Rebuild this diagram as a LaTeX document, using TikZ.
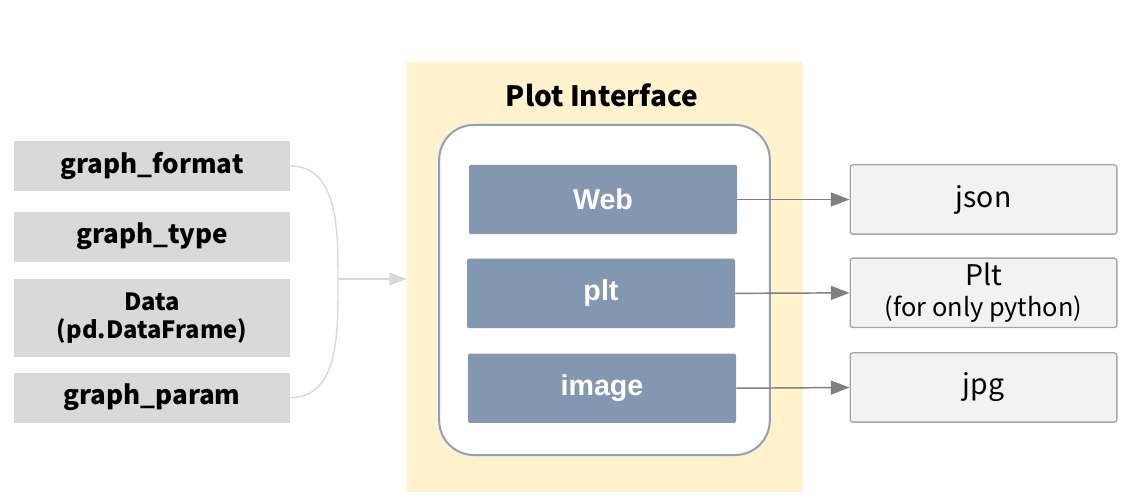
\documentclass[tikz,border=0pt]{standalone}
\usepackage{fontspec}
\newfontfamily\notofont{Noto Sans CJK KR}
\newfontfamily\arialfont{Liberation Sans}
\usepackage{tikz}
\usetikzlibrary{positioning}
\usetikzlibrary{arrows.meta}

\definecolor{inputgray}{HTML}{D9D9D9}
\definecolor{ifaceyellow}{HTML}{FFF2CC}
\definecolor{slateblue}{HTML}{8497B0}
\definecolor{frameblue}{HTML}{8EA0BA}
\definecolor{outgray}{HTML}{F2F2F2}
\definecolor{outline}{HTML}{A6A6A6}
\definecolor{arrowgray}{HTML}{808080}

\begin{document}
\begin{tikzpicture}[x=0.75pt,y=-0.75pt,
	inbox/.style={fill = inputgray, inner sep = 0pt, minimum width = 207pt, minimum height = 37.5pt, align = center, font = \notofont\bfseries\fontsize{19.5}{22}\selectfont},
	modbox/.style={fill = slateblue, rounded corners = 1.5pt, inner sep = 0pt, minimum width = 201pt, minimum height = 52pt, text = white, font = \arialfont\bfseries\fontsize{21.5}{24}\selectfont},
	outbox/.style={fill = outgray, draw = outline, line width = 1pt, rounded corners = 2pt, inner sep = 0pt, minimum width = 200pt, minimum height = 52pt, align = center, font = \notofont\fontsize{21.3}{22}\selectfont},
	outarrow/.style={draw = arrowgray, line width = 1.1pt, -{Triangle[length = 14pt, width = 10.5pt]}}]
	\useasboundingbox (0,0) rectangle (1136,502);

	% inputs
	\node[inbox] at (152,166) (gformat) {graph\_format};
	\node[inbox, below = 15pt of gformat] (gtype) {graph\_type};
	\node[inbox, below = 12.75pt of gtype, minimum height = 58.5pt, font = \notofont\bfseries\fontsize{17.8}{21}\selectfont] (gdata)
	{Data\\(pd.DataFrame)};
	\node[inbox, below = 11.25pt of gdata] (gparam) {graph\_param};

	% plot interface
	\node[fill = ifaceyellow, inner sep = 0pt, minimum width = 297pt, minimum height = 322.5pt] at (605,277) (iface) {};
	\node[font = \notofont\bfseries\fontsize{21}{24}\selectfont] at (602,95) (title) {Plot Interface};
	\node[fill = white, draw = frameblue, line width = 1.5pt, rounded corners = 26pt, inner sep = 0pt, minimum width = 248pt, minimum height = 247.5pt] at (604.5,290) (frame) {};

	\node[modbox] at (603,199.5) (web) {Web};
	\node[modbox, below = 18pt of web.south west, anchor = north west, xshift = -1.5pt] (plt) {plt};
	\node[modbox, below = 18.75pt of plt.south west, anchor = north west, xshift = 0.75pt] (image) {image};

	% outputs
	\node[outbox] at (983.5,199.5) (json) {json};
	\node[outbox, below = 17pt of json] (pltout) {Plt\\[1pt]{\fontsize{19}{20}\selectfont(for only python)}};
	\node[outbox, below = 18pt of pltout] (jpg) {jpg};

	% connectors
	\coordinate (brace) at (338,279);
	\draw[inputgray, line width = 1.1pt] (gformat.east) to[out=0, in=90] (brace) to[out=-90, in=0] (gparam.east);
	\draw[inputgray, line width = 1.1pt, -{Triangle[length = 13pt, width = 9.5pt]}] (brace) -- (iface.west |- brace);

	\draw[outarrow] (web.east) -- (json.west);
	\draw[outarrow] (plt.east) -- (pltout.west);
	\draw[outarrow] (image.east) -- (jpg.west);
\end{tikzpicture}
\end{document}
